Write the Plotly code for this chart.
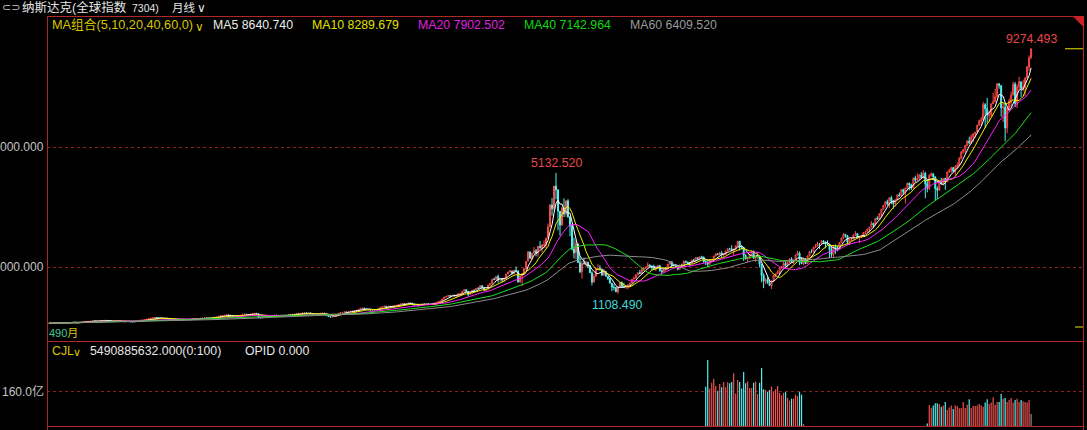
import pandas as pd
import plotly.graph_objects as go

W, H = 1087, 430

# ---------------- data (monthly) ----------------
first_month = "1979-01"
first_open = 117.98

closes = [
    125.8, 123.4, 132.7, 134.1, 130.9, 137.4, 141.3, 150.4, 149.9, 135.5, 141.0, 151.1,
    161.8, 158.0, 131.0, 139.7, 150.5, 157.8, 171.8, 181.5, 187.8, 192.8, 208.1, 202.3,
    197.8, 198.0, 210.2, 216.7, 220.6, 215.8, 211.6, 195.8, 180.0, 195.2, 201.4, 195.8,
    188.4, 179.4, 175.7, 184.7, 178.5, 171.3, 167.4, 176.3, 187.7, 212.6, 226.3, 232.4,
    248.4, 260.7, 270.8, 293.1, 308.7, 318.7, 303.9, 292.4, 296.7, 276.4, 285.7, 278.6,
    268.4, 250.8, 249.2, 246.4, 229.8, 239.7, 230.9, 255.8, 249.9, 247.0, 242.5, 247.4,
    278.7, 284.2, 279.2, 280.6, 290.8, 296.2, 301.3, 297.7, 280.3, 292.5, 313.9, 324.9,
    335.8, 359.5, 374.7, 383.2, 391.0, 405.5, 371.4, 382.9, 350.7, 360.8, 359.6, 348.8,
    392.1, 424.0, 430.1, 417.8, 416.5, 424.7, 434.9, 454.6, 444.3, 323.3, 305.2, 330.5,
    344.7, 366.9, 374.6, 379.2, 370.3, 394.7, 387.3, 376.6, 387.7, 382.5, 371.5, 381.4,
    401.3, 399.7, 406.7, 427.6, 446.2, 435.3, 453.8, 469.3, 472.9, 456.1, 456.6, 454.8,
    410.7, 425.8, 435.5, 420.1, 458.9, 462.3, 438.2, 381.2, 344.5, 329.8, 359.1, 373.8,
    414.2, 453.1, 482.3, 484.7, 506.1, 475.9, 502.0, 525.7, 526.9, 542.9, 523.9, 586.3,
    620.2, 633.5, 603.8, 578.7, 585.3, 563.6, 580.8, 563.1, 583.3, 605.2, 652.7, 677.0,
    696.3, 670.8, 690.1, 661.4, 700.5, 704.0, 704.7, 742.8, 762.8, 779.3, 754.4, 776.8,
    800.5, 792.5, 743.5, 733.8, 735.2, 706.0, 722.2, 765.6, 764.3, 777.5, 750.3, 752.0,
    755.2, 793.7, 817.2, 844.0, 864.6, 933.5, 1001.2, 1020.1, 1043.5, 1036.1, 1059.2, 1052.1,
    1059.8, 1100.1, 1101.4, 1190.5, 1243.4, 1185.0, 1080.6, 1141.5, 1226.9, 1221.5, 1292.6, 1291.0,
    1379.9, 1309.0, 1221.7, 1260.8, 1400.3, 1442.1, 1593.8, 1587.3, 1685.7, 1593.6, 1600.6, 1570.4,
    1619.4, 1770.5, 1835.7, 1868.4, 1778.9, 1894.7, 1872.4, 1499.3, 1693.8, 1771.4, 1949.5, 2192.7,
    2505.9, 2288.0, 2461.4, 2542.9, 2470.5, 2686.1, 2638.5, 2739.4, 2746.2, 2966.4, 3336.2, 4069.3,
    3940.4, 4696.7, 4572.8, 3860.7, 3400.9, 3966.1, 3766.9, 4206.4, 3672.8, 3369.6, 2597.9, 2470.5,
    2772.7, 2151.8, 1840.3, 2116.2, 2110.5, 2160.5, 2027.1, 1805.4, 1498.8, 1690.2, 1930.6, 1950.4,
    1934.0, 1731.5, 1845.4, 1688.2, 1615.7, 1463.2, 1328.3, 1314.9, 1172.1, 1329.8, 1478.8, 1335.5,
    1320.9, 1337.5, 1341.2, 1464.3, 1595.9, 1622.8, 1735.0, 1810.5, 1786.9, 1932.2, 1960.3, 2003.4,
    2066.2, 2029.8, 1994.2, 1920.2, 1986.7, 2047.8, 1887.4, 1838.1, 1896.8, 1975.0, 2096.8, 2175.4,
    2062.4, 2051.7, 1999.2, 1921.7, 2068.2, 2057.0, 2184.8, 2152.1, 2151.7, 2120.3, 2232.8, 2205.3,
    2305.8, 2281.4, 2339.8, 2322.6, 2178.9, 2172.1, 2091.5, 2183.8, 2258.4, 2366.7, 2431.8, 2415.3,
    2463.9, 2416.2, 2421.6, 2525.1, 2605.0, 2603.2, 2546.3, 2596.4, 2701.5, 2859.1, 2661.0, 2652.3,
    2389.9, 2271.5, 2279.1, 2412.8, 2522.7, 2293.0, 2325.6, 2367.5, 2091.9, 1721.0, 1535.6, 1577.0,
    1476.4, 1377.8, 1528.6, 1717.3, 1774.3, 1835.0, 1978.5, 2009.1, 2122.4, 2045.1, 2144.6, 2269.2,
    2147.4, 2238.3, 2398.0, 2461.2, 2257.0, 2109.2, 2254.7, 2114.0, 2368.6, 2507.4, 2498.2, 2652.9,
    2700.1, 2782.3, 2781.1, 2873.5, 2835.3, 2773.5, 2756.4, 2579.5, 2415.4, 2684.4, 2620.3, 2605.2,
    2814.0, 2966.9, 3091.6, 3046.4, 2827.3, 2935.1, 2939.5, 3067.0, 3116.2, 2977.2, 3010.2, 3019.5,
    3142.1, 3160.2, 3267.5, 3328.8, 3456.0, 3403.3, 3626.4, 3589.9, 3771.5, 3919.7, 4059.9, 4176.6,
    4103.9, 4308.1, 4199.0, 4114.6, 4242.6, 4408.2, 4369.8, 4580.3, 4493.4, 4630.7, 4791.6, 4736.1,
    4635.2, 4963.5, 4900.9, 4941.4, 5070.0, 4986.9, 5128.3, 4776.5, 4620.2, 5053.8, 5108.7, 5007.4,
    4614.0, 4558.0, 4869.8, 4775.4, 4948.1, 4842.7, 5162.1, 5213.2, 5312.0, 5189.1, 5323.7, 5383.1,
    5614.8, 5825.4, 5911.7, 6047.6, 6198.5, 6140.4, 6348.1, 6428.7, 6496.0, 6727.7, 6874.0, 6903.4,
    7411.5, 7273.0, 7063.4, 7066.3, 7442.1, 7510.3, 7671.8, 8109.5, 8046.4, 7305.9, 7330.5, 6635.3,
    7281.7, 7532.5, 7729.3, 8095.4, 7453.2, 8006.2, 8175.4, 7962.9, 7999.3, 8292.4, 8665.5, 8972.6,
    9274.3,
]

highs = [
    126, 127, 133, 135, 135, 138, 142, 151, 153, 151, 142, 151,
    163, 166, 158, 141, 151, 159, 172, 183, 190, 197, 209, 208,
    204, 200, 211, 218, 221, 223, 216, 212, 196, 196, 202, 202,
    196, 189, 181, 186, 186, 179, 173, 177, 189, 213, 230, 233,
    249, 262, 272, 294, 311, 329, 322, 304, 301, 298, 287, 287,
    288, 268, 254, 252, 247, 240, 240, 256, 258, 252, 249, 248,
    279, 288, 285, 284, 291, 297, 307, 302, 298, 293, 314, 325,
    337, 360, 377, 390, 393, 406, 411, 384, 384, 361, 365, 361,
    392, 426, 438, 432, 421, 425, 435, 456, 455, 445, 330, 332,
    345, 367, 377, 380, 378, 395, 397, 390, 388, 390, 383, 382,
    402, 408, 409, 428, 448, 449, 454, 473, 475, 485, 458, 460,
    459, 427, 438, 438, 459, 470, 469, 439, 385, 346, 359, 375,
    415, 459, 488, 506, 506, 506, 503, 526, 532, 543, 546, 586,
    628, 644, 635, 604, 596, 590, 581, 581, 588, 605, 653, 677,
    697, 697, 690, 690, 701, 705, 709, 743, 763, 787, 780, 777,
    801, 804, 803, 746, 742, 743, 723, 766, 774, 779, 790, 752,
    766, 795, 818, 844, 865, 934, 1005, 1023, 1067, 1063, 1070, 1073,
    1062, 1121, 1130, 1191, 1250, 1245, 1187, 1160, 1227, 1253, 1293, 1317,
    1380, 1394, 1334, 1261, 1400, 1458, 1594, 1646, 1697, 1745, 1620, 1593,
    1621, 1771, 1837, 1911, 1869, 1895, 2015, 1873, 1775, 1772, 1950, 2193,
    2533, 2509, 2474, 2664, 2598, 2707, 2864, 2756, 2887, 2967, 3448, 4090,
    4303, 4697, 5132.52, 4493, 3863, 4012, 4289, 4212, 4260, 3692, 3447, 2973,
    2892, 2770, 2356, 2200, 2315, 2213, 2171, 2075, 1852, 1763, 1957, 2098,
    2059, 1933, 1929, 1860, 1700, 1638, 1466, 1426, 1339, 1350, 1496, 1521,
    1467, 1350, 1428, 1474, 1598, 1686, 1761, 1812, 1907, 1941, 1979, 2006,
    2154, 2085, 2054, 2080, 1998, 2050, 2052, 1877, 1929, 1987, 2102, 2185,
    2191, 2096, 2086, 2003, 2080, 2110, 2220, 2219, 2187, 2165, 2236, 2278,
    2333, 2320, 2352, 2375, 2352, 2220, 2169, 2185, 2265, 2371, 2468, 2471,
    2509, 2531, 2460, 2559, 2626, 2635, 2724, 2603, 2716, 2861, 2847, 2724,
    2661, 2419, 2345, 2426, 2551, 2550, 2345, 2473, 2380, 2097, 1780, 1621,
    1667, 1580, 1552, 1738, 1775, 1882, 1979, 2027, 2167, 2190, 2189, 2295,
    2326, 2248, 2416, 2535, 2519, 2328, 2303, 2300, 2381, 2541, 2592, 2675,
    2766, 2841, 2797, 2888, 2887, 2835, 2888, 2761, 2669, 2740, 2754, 2707,
    2820, 2983, 3134, 3098, 3064, 2936, 2999, 3082, 3196, 3124, 3021, 3068,
    3154, 3213, 3269, 3329, 3532, 3473, 3628, 3688, 3799, 3940, 4069, 4178,
    4246, 4324, 4372, 4234, 4247, 4409, 4485, 4581, 4610, 4641, 4810, 4815,
    4777, 4975, 5042, 5120, 5100, 5164, 5232, 5176, 4918, 5096, 5155, 5116,
    4988, 4689, 4898, 4972, 4963, 4980, 5180, 5272, 5342, 5338, 5399, 5487,
    5669, 5867, 5929, 6075, 6222, 6341, 6422, 6460, 6500, 6737, 6914, 7003,
    7506, 7462, 7637, 7206, 7445, 7806, 7933, 8133.3, 8092, 8048, 7482, 7487,
    7332, 7614, 7851, 8176, 8165, 8091, 8340, 8176, 8243, 8335, 8705, 9052,
    9274.493,
]

lows = [
    117, 122, 123, 131, 129, 131, 136, 141, 145, 130, 133, 140,
    151, 154, 124, 130, 139, 150, 157, 171, 178, 186, 190, 189,
    195, 193, 197, 209, 213, 214, 207, 195, 175, 179, 194, 193,
    186, 177, 173, 176, 178, 169, 166, 160, 175, 187, 212, 219,
    230, 247, 258, 270, 292, 307, 298, 284, 291, 273, 275, 276,
    266, 247, 245, 243, 229, 229, 225, 230, 247, 243, 239, 238,
    245, 277, 275, 278, 279, 289, 296, 296, 276, 280, 292, 312,
    322, 336, 357, 370, 378, 391, 360, 369, 348, 349, 351, 348,
    349, 391, 417, 403, 410, 414, 425, 434, 436, 291, 299, 292,
    329, 344, 366, 371, 366, 369, 385, 371, 376, 381, 369, 370,
    378, 398, 399, 405, 427, 431, 434, 453, 466, 449, 446, 446,
    405, 410, 426, 418, 420, 452, 433, 381, 344, 322, 330, 358,
    353, 414, 449, 480, 483, 473, 476, 494, 521, 523, 515, 518,
    580, 617, 598, 570, 577, 547, 551, 561, 564, 568, 605, 648,
    669, 645, 670, 645, 660, 681, 690, 706, 737, 760, 733, 753,
    770, 784, 737, 706, 717, 692, 703, 722, 761, 752, 723, 734,
    740, 754, 788, 817, 843, 864, 930, 985, 1014, 991, 1030, 1010,
    988, 1056, 1052, 1101, 1187, 1150, 1020, 1080, 1130, 1179, 1220, 1252,
    1285, 1303, 1207, 1201, 1258, 1374, 1443, 1560, 1580, 1475, 1506, 1494,
    1501, 1619, 1752, 1816, 1746, 1747, 1865, 1483, 1475, 1357, 1771, 1900,
    2193, 2274, 2240, 2440, 2356, 2341, 2614, 2490, 2641, 2627, 2955, 3332,
    3712, 3874, 4253, 3227, 3043, 3374, 3664, 3669, 3637, 3026, 2552, 2288,
    2251, 2136, 1794, 1619, 2076, 1980, 1957, 1805, 1387, 1479, 1673, 1911,
    1877, 1697, 1711, 1687, 1563, 1452, 1192, 1220, 1172, 1108.49, 1320, 1330,
    1313, 1271, 1253, 1338, 1460, 1589, 1620, 1728, 1765, 1795, 1862, 1928,
    2001, 2000, 1897, 1917, 1866, 1975, 1843, 1750, 1833, 1885, 1978, 2076,
    2026, 2025, 1974, 1890, 1914, 2045, 2055, 2123, 2078, 2025, 2115, 2199,
    2189, 2245, 2272, 2303, 2136, 2065, 2012, 2072, 2165, 2235, 2354, 2396,
    2395, 2330, 2340, 2409, 2520, 2560, 2545, 2386, 2560, 2673, 2543, 2579,
    2202, 2249, 2156, 2287, 2395, 2281, 2168, 2285, 1984, 1493, 1295, 1428,
    1440, 1377, 1265.52, 1494, 1656, 1775, 1727, 1941, 1963, 2024, 2015, 2141,
    2140, 2100, 2237, 2393, 2061, 2102, 2061, 2100, 2102, 2354, 2462, 2492,
    2654, 2675, 2603, 2767, 2765, 2622, 2734, 2297, 2332, 2335, 2441, 2520,
    2648, 2809, 2948, 2984, 2726, 2726, 2863, 2922, 3042, 2961, 2795, 2959,
    3077, 3105, 3159, 3154, 3324, 3294, 3399, 3581, 3591, 3673, 3911, 3984,
    4052, 3968, 4093, 3946, 4016, 4210, 4352, 4359, 4422, 4117, 4593, 4547,
    4563, 4616, 4825, 4854, 4918, 4953, 4940, 4292, 4487, 4566, 5011, 4899,
    4209, 4267, 4629, 4749, 4718, 4574, 4839, 5153, 5138, 5163, 5046, 5256,
    5398, 5597, 5771, 5806, 6031, 6089, 6102, 6178, 6307, 6533, 6694, 6719,
    6924, 6631, 6805, 6856, 7011, 7484, 7542, 7646, 7943, 7014, 6830, 6190.2,
    6457, 7273, 7336, 7733, 7332, 7292, 7896, 7662, 7856, 7700, 8294, 8542,
    8943.5,
]

# volume (亿) — only two stretches are present in the source
vol_a_start = "2006-06"
vol_a = [180, 302, 172, 198, 216, 183, 161, 192, 177, 201, 177, 200, 195, 201, 241,
         149, 210, 201, 171, 247, 195, 204, 174, 174, 198, 204, 146, 198, 265, 168,
         165, 155, 165, 180, 155, 168, 183, 152, 140, 152, 155, 128, 116, 125, 125,
         143, 137, 155, 143, 9]
vol_b_start = "2015-09"
vol_b = [12, 96, 84, 94, 104, 104, 101, 88, 94, 110, 73, 85, 94, 78, 94, 91, 81, 82,
         110, 82, 97, 122, 82, 91, 91, 94, 101, 94, 88, 107, 122, 101, 107, 131, 97,
         110, 110, 146, 125, 128, 110, 119, 128, 107, 119, 125, 110, 119, 113, 110,
         107, 119, 55]

ma_periods = [5, 10, 20, 40, 60]
ma_header_values = ["8640.740", "8289.679", "7902.502", "7142.964", "6409.520"]
price_ticks = [2000, 6000]
price_tick_labels = ["000.000", "000.000"]
vol_ticks = [160]
vol_tick_labels = ["160.0亿"]
high_label_months = ["2000-03", "2020-01"]
low_label_months = ["2002-10"]

# ---------------- styling ----------------
RED = "#FF4A4A"
VOL_RED = "#F05050"
CYAN = "#54F0F0"
GRAY = "#8C8C8C"
BORDER = "#B02828"
GRID = "#8A2222"
MA_COLORS = ["#FFFFFF", "#F0F000", "#FF20FF", "#20E020", "#8C8C8C"]
MA_TEXT_COLORS = ["#EDEDED", "#E2E200", "#E020E0", "#10D810", "#9A9A9A"]
FONT = "Liberation Sans, Arial, Noto Sans CJK SC, sans-serif"

# ---------------- derived ----------------
N = len(closes)
months = pd.period_range(first_month, periods=N, freq="M").strftime("%Y-%m").tolist()
idx = list(range(N))
opens = [first_open] + closes[:-1]
close_s = pd.Series(closes)

fig = go.Figure()

fig.add_trace(go.Candlestick(
    x=idx, open=opens, high=highs, low=lows, close=closes,
    text=months, hoverinfo="text+y",
    increasing=dict(line=dict(color=RED, width=1), fillcolor="#000000"),
    decreasing=dict(line=dict(color=CYAN, width=1), fillcolor=CYAN),
    whiskerwidth=0, xaxis="x", yaxis="y", showlegend=False,
))

for p, c in zip(ma_periods, MA_COLORS):
    fig.add_trace(go.Scatter(
        x=idx, y=close_s.rolling(p, min_periods=1).mean(), mode="lines",
        line=dict(color=c, width=1), xaxis="x", yaxis="y",
        showlegend=False, hoverinfo="skip",
    ))

# volume bars split by colour group
groups = {"up": ([], []), "down": ([], []), "last": ([], [])}
all_vol = []
for start, vals in ((vol_a_start, vol_a), (vol_b_start, vol_b)):
    s0 = months.index(start)
    for k, v in enumerate(vals):
        all_vol.append((s0 + k, v))
for n, (i, v) in enumerate(all_vol):
    if n == len(all_vol) - 1:
        key = "last"
    elif closes[i] >= opens[i]:
        key = "up"
    else:
        key = "down"
    groups[key][0].append(i)
    groups[key][1].append(v)

for key, col in (("up", VOL_RED), ("down", CYAN), ("last", GRAY)):
    gx, gy = groups[key]
    fig.add_trace(go.Bar(
        x=gx, y=gy, marker_color=col, marker_line_width=0, width=0.6,
        xaxis="x2", yaxis="y2", showlegend=False, hoverinfo="skip",
    ))

# ---------------- layout ----------------
def py(p):
    return 1 - p / H

def pxx(p):
    return p / W

X_DOM = [pxx(47), pxx(1083)]
X_RANGE = [-1.0, 518.0]

fig.update_layout(
    width=W, height=H, autosize=False,
    margin=dict(l=0, r=0, t=0, b=0),
    paper_bgcolor="#000000", plot_bgcolor="#000000",
    showlegend=False, barmode="overlay",
    xaxis=dict(domain=X_DOM, range=X_RANGE, visible=False,
               rangeslider=dict(visible=False), fixedrange=True),
    xaxis2=dict(domain=X_DOM, range=X_RANGE, visible=False, anchor="y2",
                fixedrange=True),
    yaxis=dict(domain=[py(341), py(16)], range=[-466.7, 10366.7],
               tickvals=price_ticks, showticklabels=False, ticks="",
               showgrid=True, gridcolor=GRID, griddash="3px,3px", gridwidth=1,
               zeroline=False, showline=False, anchor="x", fixedrange=True),
    yaxis2=dict(domain=[py(426), py(341)], range=[0, 388.6],
                tickvals=vol_ticks, showticklabels=False, ticks="",
                showgrid=True, gridcolor=GRID, griddash="3px,3px", gridwidth=1,
                zeroline=False, showline=False, anchor="x2", fixedrange=True),
)

# frame lines
def hline(y, x0=47.5, x1=1083.5, color=BORDER):
    fig.add_shape(type="line", xref="paper", yref="paper",
                  x0=pxx(x0), x1=pxx(x1), y0=py(y), y1=py(y),
                  line=dict(color=color, width=1))

def vline(x, y0, y1, color=BORDER):
    fig.add_shape(type="line", xref="paper", yref="paper",
                  x0=pxx(x), x1=pxx(x), y0=py(y0), y1=py(y1),
                  line=dict(color=color, width=1))

hline(16.5)
hline(341.5)
hline(426.5)
vline(47.5, 16, 430)
vline(1083.5, 16, 430)

# corner triangle
fig.add_shape(type="path", xref="paper", yref="paper",
              path=f"M {pxx(1073)} {py(16.5)} L {pxx(1083.5)} {py(16.5)} L {pxx(1083.5)} {py(27)} Z",
              fillcolor="#D02020", line=dict(width=0))

# last-price markers on the right edge
fig.add_shape(type="line", xref="paper", yref="y",
              x0=pxx(1065), x1=pxx(1083), y0=closes[-1], y1=closes[-1],
              line=dict(color="#E6E600", width=1))
fig.add_shape(type="line", xref="paper", yref="y",
              x0=pxx(1075), x1=pxx(1083), y0=0, y1=0,
              line=dict(color="#E6E600", width=1))

# ---------------- texts ----------------
def txt(s, x, y, color, size=12, anchor="left", family=FONT):
    fig.add_annotation(text=s, x=pxx(x), y=py(y), xref="paper", yref="paper",
                       xanchor=anchor, yanchor="middle", showarrow=False,
                       borderpad=0, font=dict(family=family, size=size, color=color))

# header row 1
txt("⊂⊃", 1, 8, "#C8C8C8", size=11, family="DejaVu Sans")
txt("纳斯达克(全球指数", 21, 8, "#E6E6E6", size=12.5)
txt("7304)", 131, 8, "#E6E6E6", size=10.5)
txt("月线", 171, 8, "#E6E6E6", size=11.5)
txt("∨", 196, 8, "#E6E6E6", size=12, family="DejaVu Sans")

# header row 2 (MA legend)
txt("MA组合(5,10,20,40,60,0)", 51, 25, "#D8C400", size=12.7)
txt("∨", 194, 27, "#D8C400", size=12, family="DejaVu Sans")
ma_x = [212, 311, 417, 523, 629]
for p, v, c, x in zip(ma_periods, ma_header_values, MA_TEXT_COLORS, ma_x):
    txt(f"MA{p} {v}", x, 25, c, size=12.3)

# price axis labels
for t, lab in zip(price_ticks, price_tick_labels):
    fig.add_annotation(text=lab, x=pxx(45), y=t, xref="paper", yref="y",
                       xanchor="right", yanchor="middle", showarrow=False,
                       borderpad=0, font=dict(family=FONT, size=12, color="#C4C4C4"))
for t, lab in zip(vol_ticks, vol_tick_labels):
    fig.add_annotation(text=lab, x=pxx(45), y=t, xref="paper", yref="y2",
                       xanchor="right", yanchor="middle", showarrow=False,
                       borderpad=0, font=dict(family=FONT, size=12, color="#C4C4C4"))

# date label bottom-left
txt('<span style="color:#40C890">490</span>月', 48, 333, "#D8C800", size=11)

# volume header
txt("CJL", 51, 351, "#D8C400", size=12.3)
txt("∨", 72, 352, "#D8C400", size=11, family="DejaVu Sans")
txt("5490885632.000(0:100)", 89, 351, "#E6E6E6", size=12.3)
txt("OPID 0.000", 244, 351, "#E6E6E6", size=12.3)

# extreme-value labels
for m in high_label_months:
    i = months.index(m)
    fig.add_annotation(text=f"{highs[i]:.3f}", x=i, y=highs[i], xref="x", yref="y",
                       xanchor="center", yanchor="bottom", yshift=2, showarrow=False,
                       borderpad=0, font=dict(family=FONT, size=12.3, color="#E84848"))
for m in low_label_months:
    i = months.index(m)
    fig.add_annotation(text=f"{lows[i]:.3f}", x=i, y=lows[i], xref="x", yref="y",
                       xanchor="center", yanchor="top", yshift=-3, showarrow=False,
                       borderpad=0, font=dict(family=FONT, size=12.3, color="#40D8D8"))

fig.write_html(
    "out.html",
    config={"displayModeBar": False, "staticPlot": True},
    post_script="document.body.style.margin='0';document.body.style.backgroundColor='#000';",
)
